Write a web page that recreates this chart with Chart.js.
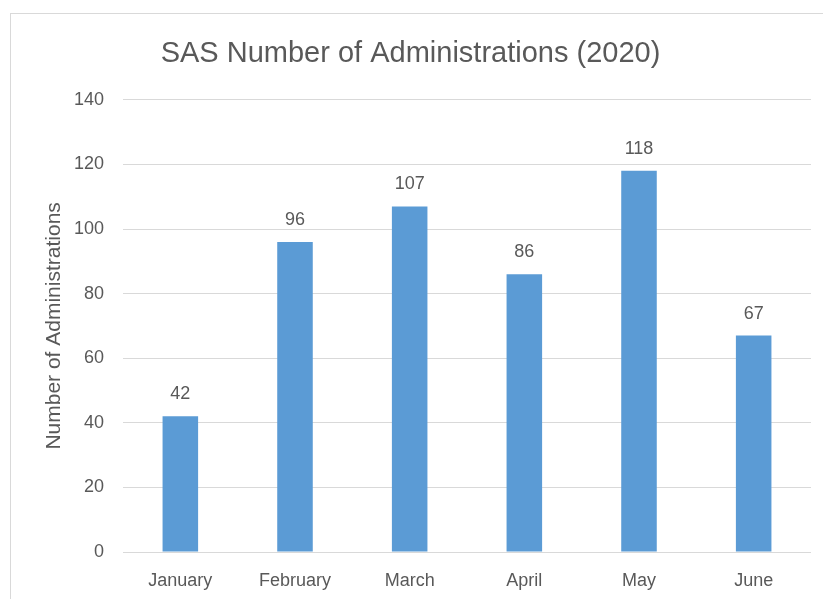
<!DOCTYPE html>
<html>
<head>
<meta charset="utf-8">
<script src="https://cdn.jsdelivr.net/npm/chart.js@4/dist/chart.umd.min.js"></script>
<style>
  body { margin: 0; background: #fff; }
  #frame { position: absolute; left: 10px; top: 13px; width: 840px; height: 620px; border: 1px solid #d9d9d9; }
  #wrap { position: absolute; left: 0; top: 0; width: 823px; height: 599px; }
</style>
</head>
<body>
<div id="frame"></div>
<div id="wrap"><canvas id="adminChart" width="823" height="599"></canvas></div>
<script>
const months = ['January', 'February', 'March', 'April', 'May', 'June'];
const administrations = [42, 96, 107, 86, 118, 67];
const yTicks = [0, 20, 40, 60, 80, 100, 120, 140];

const textGray = '#595959';
const fontFamily = '"Liberation Sans", Arial, sans-serif';

// draws the value above each bar
const valueLabels = {
    id: 'valueLabels',
    afterDatasetsDraw(chart) {
        const ctx = chart.ctx;
        const meta = chart.getDatasetMeta(0);
        ctx.save();
        ctx.fillStyle = textGray;
        ctx.font = '18px ' + fontFamily;
        ctx.textAlign = 'center';
        ctx.textBaseline = 'middle';
        meta.data.forEach((bar, i) => {
            ctx.fillText(administrations[i], bar.x, bar.y - 22);
        });
        ctx.restore();
    }
};

const canvas = document.getElementById('adminChart');
new Chart(canvas, {
    type: 'bar',
    data: {
        labels: months,
        datasets: [{
            data: administrations,
            backgroundColor: '#5b9bd5',
            categoryPercentage: 1,
            barPercentage: 0.31
        }]
    },
    options: {
        responsive: false,
        animation: false,
        layout: { padding: { left: 10, right: 12, top: 0, bottom: 0 } },
        plugins: {
            legend: { display: false },
            tooltip: { enabled: false },
            title: {
                display: true,
                text: 'SAS Number of Administrations (2020)',
                color: textGray,
                font: { family: fontFamily, size: 29, weight: 'normal', lineHeight: 1.2 },
                padding: { top: 37, bottom: 28 }
            }
        },
        scales: {
            x: {
                grid: { display: false },
                border: { display: false },
                ticks: { color: textGray, font: { family: fontFamily, size: 18 }, padding: 10 },
                afterFit(scale) { scale.height = 47; }
            },
            y: {
                min: 0,
                max: 140,
                afterBuildTicks(scale) { scale.ticks = yTicks.map(v => ({ value: v })); },
                grid: { color: '#d9d9d9', drawTicks: false },
                border: { display: false },
                ticks: { color: textGray, font: { family: fontFamily, size: 18 }, padding: 19 },
                title: {
                    display: true,
                    text: 'Number of Administrations',
                    color: textGray,
                    font: { family: fontFamily, size: 21 },
                    padding: { top: 32, bottom: 0 }
                },
                afterFit(scale) { scale.width = 113; }
            }
        }
    },
    plugins: [valueLabels]
});
</script>
</body>
</html>
